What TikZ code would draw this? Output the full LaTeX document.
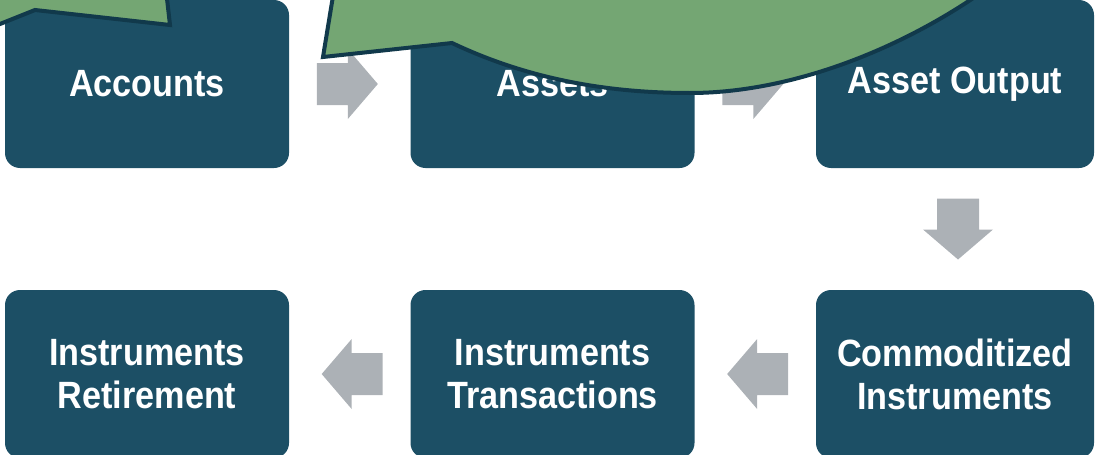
\documentclass[tikz,border=0pt]{standalone}
\usepackage{fontspec}
\setmainfont{Liberation Sans}[FakeStretch=0.9]
\usetikzlibrary{calc}
\definecolor{boxc}{RGB}{28,79,101}
\definecolor{calloutgreen}{RGB}{116,166,115}
\definecolor{calloutline}{RGB}{17,57,75}
\definecolor{arrowgray}{RGB}{172,177,182}
\tikzset{
  stepbox/.style={draw=none, fill=boxc, rounded corners=15pt, minimum height=168pt,
    minimum width=284pt, inner sep=0pt, text=white, align=center,
    font=\bfseries\fontsize{38}{43}\selectfont},
  blockarrow/.style={fill=arrowgray},
  callout/.style={fill=calloutgreen, draw=calloutline, line width=4pt, line join=miter}
}
\newcommand\blkarrow[2]{%
  \fill[blockarrow, shift={(#1)}, rotate=#2]
    (-30.5,-21) -- (0.5,-21) -- (0.5,-35) -- (30.5,0) -- (0.5,35) -- (0.5,21) -- (-30.5,21) -- cycle;}
\begin{document}
\begin{tikzpicture}[x=1pt,y=-1pt]
\useasboundingbox (0,0) rectangle (1095,455);
\clip (0,0) rectangle (1095,455);
% boxes
\node[stepbox] (acc) at (147,84) {Accounts};
\node[stepbox] (ast) at (552.5,84) {Assets};
\node[stepbox, minimum width=278pt] (out) at (955,84) {Asset Output};
\node[stepbox, minimum width=278pt] (com) at (955,374) {Commoditized\\Instruments};
\node[stepbox] (trn) at (552.5,374) {Instruments\\Transactions};
\node[stepbox] (ret) at (147,374) {Instruments\\Retirement};
% block arrows
\coordinate (a1) at ($(acc.east)!0.48!(ast.west)$);
\coordinate (a2) at ($(ast.east)!0.48!(out.west)$);
\coordinate (a3) at ($(out.south)!0.5!(com.north)+(3,0)$);
\coordinate (a4) at ($(com.west)!0.48!(trn.east)$);
\coordinate (a5) at ($(trn.west)!0.48!(ret.east)$);
\blkarrow{a1}{0}
\blkarrow{a2}{0}
\blkarrow{a3}{-90}
\blkarrow{a4}{180}
\blkarrow{a5}{180}
% callouts
\draw[callout] (-10,28) -- (0,24) -- (35,10) -- (170,25) -- (166,-10) -- (-10,-10) -- cycle;
\draw[callout] (334,-10) -- (323,57) -- (452,43)
  .. controls (530,80) and (610,93) .. (690,93)
  .. controls (790,93) and (900,50) .. (985,-10)
  -- cycle;
\end{tikzpicture}
\end{document}
